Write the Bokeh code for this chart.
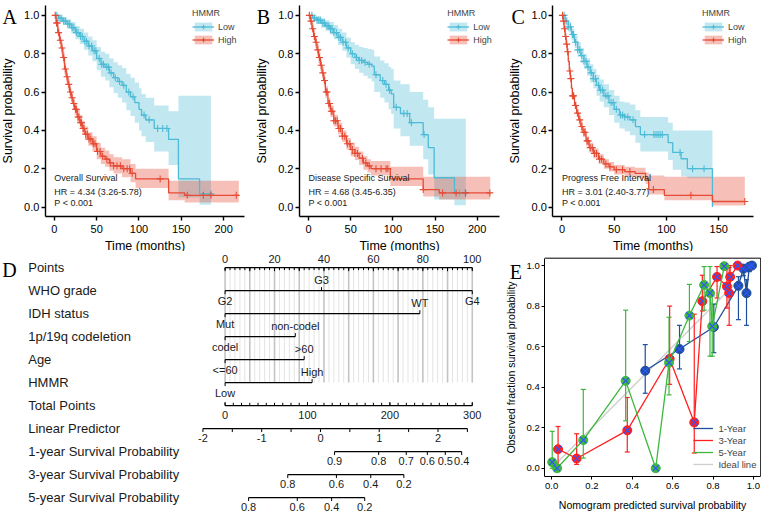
import numpy as np
from bokeh.plotting import figure
from bokeh.layouts import row, column
from bokeh.models import Range1d, Legend, LegendItem, FixedTicker, NumeralTickFormatter
from bokeh.embed import file_html
from bokeh.resources import INLINE
from bokeh.core.properties import value

# ---------------- Kaplan-Meier data ----------------
A_low_t = [0, 5, 10, 15, 20, 25, 30, 35, 40, 45, 50, 55, 60, 65, 70, 75, 80, 85, 90, 95, 100, 103, 108, 118, 135, 146.6, 171.6, 185]
A_low_s = [1.0, .985, .97, .955, .935, .91, .89, .865, .84, .815, .775, .745, .73, .70, .675, .655, .635, .60, .575, .545, .51, .48, .455, .41, .353, .147, .069, .069]
A_low_lo = [1.0, .97, .95, .93, .905, .875, .85, .82, .79, .76, .715, .68, .66, .625, .595, .57, .545, .505, .475, .44, .40, .37, .34, .29, .22, .05, .012, .012]
A_low_hi = [1.0, 1.0, .99, .98, .965, .945, .93, .91, .89, .87, .835, .81, .80, .775, .755, .74, .725, .695, .675, .65, .62, .59, .57, .53, .50, .58, .58, .58]
A_low_cens = [3, 5.5, 8, 11, 13, 16, 18, 21, 23, 26, 28, 31, 33, 36, 38, 41, 44, 47, 49, 53, 56, 58, 62, 64, 67, 72, 77, 82, 88, 93, 106, 112, 122, 128, 133, 185]

A_high_t = [0, 2, 4, 6, 8, 10, 12, 14, 16, 18, 20, 22, 24, 27, 30, 33, 36, 40, 45, 50, 55, 60, 65, 70, 80, 90, 96, 135, 154, 218]
A_high_s = [1.0, .96, .91, .87, .83, .78, .72, .68, .64, .60, .57, .54, .51, .47, .44, .41, .38, .355, .33, .29, .265, .25, .23, .215, .20, .176, .147, .074, .061, .061]
A_high_lo = [1.0, .94, .89, .85, .80, .75, .69, .65, .61, .57, .54, .51, .48, .44, .41, .38, .35, .32, .29, .25, .225, .21, .19, .175, .155, .13, .10, .035, .024, .024]
A_high_hi = [1.0, .98, .94, .90, .86, .81, .75, .71, .67, .63, .60, .57, .54, .51, .48, .45, .42, .39, .37, .335, .31, .295, .275, .26, .25, .225, .20, .137, .137, .137]
A_high_cens = [1, 2.5, 3.5, 5, 7, 9, 11, 13, 15, 17, 19, 21, 23, 25, 26, 28, 29, 31, 32, 34, 35, 37, 39, 41, 43, 46, 48, 51, 54, 57, 62, 66, 70, 74, 78, 82, 86, 89, 92, 125, 157, 176, 185, 215]

B_low_t = [0, 5, 10, 15, 20, 25, 30, 35, 40, 45, 50, 55, 60, 65, 70, 75, 78, 85, 90, 95, 98, 101, 109, 120, 136, 142, 149, 173, 186.5]
B_low_s = [1.0, .985, .975, .96, .945, .93, .91, .885, .86, .83, .80, .78, .765, .755, .745, .735, .69, .66, .64, .61, .59, .52, .488, .44, .378, .31, .153, .074, .074]
B_low_lo = [1.0, .97, .955, .935, .92, .90, .875, .845, .815, .78, .745, .72, .70, .685, .67, .655, .60, .57, .545, .51, .485, .41, .37, .32, .25, .17, .04, .01, .01]
B_low_hi = [1.0, 1.0, .995, .985, .975, .965, .95, .93, .91, .885, .86, .845, .835, .83, .825, .82, .785, .765, .75, .73, .72, .66, .64, .60, .56, .52, .46, .46, .46]
B_low_cens = [4, 7, 10, 12, 14, 17, 19, 22, 24, 26, 28, 30, 33, 36, 38, 41, 44, 47, 52, 57, 60, 63, 67, 72, 80, 88, 92, 96, 104, 113, 117, 122, 137, 179, 186.5]

B_high_t = [0, 2, 4, 6, 8, 10, 12, 14, 16, 18, 20, 23, 26, 30, 35, 40, 45, 50, 55, 60, 65, 70, 74, 97, 136, 155, 215.5]
B_high_s = [1.0, .97, .93, .89, .86, .82, .78, .74, .70, .66, .60, .54, .50, .45, .41, .37, .33, .30, .28, .255, .23, .215, .20, .147, .091, .074, .074]
B_high_lo = [1.0, .95, .91, .87, .83, .79, .75, .71, .67, .63, .57, .51, .47, .42, .38, .34, .30, .265, .245, .22, .195, .18, .165, .11, .055, .04, .04]
B_high_hi = [1.0, .99, .96, .92, .89, .85, .81, .77, .73, .69, .63, .57, .53, .48, .44, .40, .36, .335, .315, .29, .265, .25, .24, .21, .158, .158, .158]
B_high_cens = [1, 3, 5, 7, 9, 11, 13, 15, 17, 19, 21, 22, 24, 25, 27, 28, 30, 32, 34, 36, 38, 40, 43, 46, 49, 52, 55, 58, 64, 68, 72, 80, 86, 92, 94, 136, 159, 175, 186, 215]

C_low_t = [0, 3, 6, 9, 12, 15, 18, 21, 24, 27, 30, 33, 36, 40, 45, 50, 55, 60, 65, 70.3, 75, 101.6, 106, 114, 120, 144]
C_low_s = [1.0, .97, .94, .90, .86, .82, .79, .76, .73, .70, .67, .635, .61, .58, .545, .51, .48, .47, .455, .42, .378, .336, .285, .252, .20, 0.0]
C_low_lo = [1.0, .95, .915, .87, .83, .785, .75, .72, .685, .65, .62, .58, .55, .52, .48, .44, .41, .395, .375, .335, .29, .245, .195, .16, .15, 0.0]
C_low_hi = [1.0, .99, .965, .93, .895, .86, .83, .80, .775, .745, .72, .69, .665, .64, .61, .58, .55, .545, .535, .505, .47, .44, .40, .40, .40, .40]
C_low_cens = [2, 4, 6, 8, 10, 11, 13, 15, 17, 19, 21, 23, 25, 28, 30, 32, 35, 37, 39, 42, 44, 47, 49, 52, 56, 58, 60, 63, 68, 79, 88, 90, 92, 94, 96, 113, 125, 136]

C_high_t = [0, 1, 2, 3, 4, 5, 6, 7, 8, 9, 10, 12, 14, 16, 18, 20, 23, 26, 30, 35, 40, 45, 50, 60, 70, 80, 83, 98, 144, 175]
C_high_s = [1.0, .97, .93, .89, .85, .81, .76, .71, .67, .62, .58, .53, .49, .455, .42, .39, .345, .31, .28, .25, .225, .21, .195, .185, .176, .147, .091, .061, .029, .029]
C_high_lo = [1.0, .955, .91, .87, .83, .79, .74, .69, .65, .60, .56, .51, .47, .43, .395, .365, .32, .285, .255, .225, .20, .185, .17, .16, .15, .12, .065, .035, .008, .008]
C_high_hi = [1.0, .985, .95, .91, .87, .83, .78, .73, .69, .64, .60, .55, .51, .48, .445, .415, .37, .335, .305, .275, .25, .235, .22, .21, .205, .18, .165, .158, .158, .158]
C_high_cens = [0.5, 1.5, 2.5, 3.5, 4.5, 5.5, 7.5, 8.5, 10, 11, 13, 15, 17, 19, 21, 22, 24, 25, 27, 29, 31, 33, 36, 38, 42, 46, 52, 58, 65, 87.5, 123.4, 175]

A_notes = ["Overall Survival", "HR = 4.34 (3.26-5.78)", "P < 0.001"]
B_notes = ["Disease Specific Survival", "HR = 4.68 (3.45-6.35)", "P < 0.001"]
C_notes = ["Progress Free Interval", "HR = 3.01 (2.40-3.77)", "P < 0.001"]
km_xticks_AB = [0, 50, 100, 150, 200]
km_xticks_C = [0, 50, 100, 150]
km_yticks = [0.0, 0.2, 0.4, 0.6, 0.8, 1.0]

# ---------------- Nomogram data ----------------
nomo_rows = ["Points", "WHO grade", "IDH status", "1p/19q codeletion", "Age", "HMMR",
             "Total Points", "Linear Predictor", "1-year Survival Probability",
             "3-year Survival Probability", "5-year Survival Probability"]
points_labels = [0, 20, 40, 60, 80, 100]
who_levels = ["G2", "G3", "G4"]
who_points = [0, 39, 100]
idh_levels = ["Mut", "WT"]
idh_points = [0, 78.8]
codel_levels = ["codel", "non-codel"]
codel_points = [0, 28.4]
age_levels = ["<=60", ">60"]
age_points = [0, 32]
hmmr_levels = ["Low", "High"]
hmmr_points = [0, 35.2]
total_labels = [0, 100, 200, 300]
lp_labels = [-2, -1, 0, 1, 2]
lp_limits = [-2, 2.5]
surv1_labels = [0.9, 0.8, 0.7, 0.6, 0.5, 0.4]
surv3_labels = [0.8, 0.6, 0.4, 0.2]
surv5_labels = [0.8, 0.6, 0.4, 0.2]
log_base_hazard = {1: -2.49, 3: -0.943, 5: -0.277}
LP_AT_ZERO_TOTAL = -1.623
LP_PER_TOTAL_POINT = 0.01402
POINTS_MAX = 100
TOTAL_MAX = 300

# ---------------- Calibration data ----------------
cal1_x = [0.464, 0.634, 0.804, 0.926, 0.950, 0.966, 0.980, 0.993]
cal1_y = [0.481, 0.588, 0.697, 0.900, 0.985, 0.864, 0.995, 1.000]
cal1_lo = [0.370, 0.490, 0.570, 0.733, 0.950, 0.705, 0.970, 1.000]
cal1_hi = [0.610, 0.705, 0.810, 0.945, 1.000, 0.930, 1.000, 1.000]
cal3_x = [0.032, 0.124, 0.375, 0.585, 0.707, 0.747, 0.820, 0.869, 0.880, 0.885, 0.922]
cal3_y = [0.094, 0.048, 0.187, 0.540, 0.226, 0.824, 0.944, 0.897, 0.864, 0.944, 1.000]
cal3_lo = [0.010, 0.019, 0.080, 0.414, 0.075, 0.776, 0.840, 0.790, 0.705, 0.850, 1.000]
cal3_hi = [0.206, 0.170, 0.349, 0.800, 0.760, 0.952, 0.995, 0.990, 0.990, 1.000, 1.000]
cal5_x = [0.003, 0.027, 0.157, 0.367, 0.516, 0.582, 0.683, 0.756, 0.785, 0.796, 0.856]
cal5_y = [0.030, 0.000, 0.139, 0.431, 0.000, 0.521, 0.753, 0.904, 0.864, 0.700, 0.997]
cal5_lo = [0.000, 0.000, 0.050, 0.234, 0.000, 0.362, 0.625, 0.780, 0.553, 0.553, 1.000]
cal5_hi = [0.182, 0.000, 0.389, 0.780, 0.000, 0.745, 0.907, 0.995, 0.995, 0.850, 1.000]
cal_ticks = [0.0, 0.2, 0.4, 0.6, 0.8, 1.0]

# ---------------- layout helpers ----------------
FONT = "Liberation Sans"
SERIF = "Liberation Serif"
RED = "#E64B35"
BLUE = "#4DBBD5"
SX = 761 / 777
SY = 514 / 530
TOP_H = 251
BOT_H = 263


def X(r):
    return r * SX


def Y(r):
    return r * SY


def axis_range(size, p1, v1, p2, v2):
    k = (v2 - v1) / (p2 - p1)
    return (v1 - p1 * k, v1 + (size - p1) * k)


def px2data(rng, size, p):
    return rng[0] + p * (rng[1] - rng[0]) / size


def style_axis(ax, tick_size, label_size, label_standoff, standoff=2, width=1.4, tick_out=4):
    ax.axis_line_color = "black"
    ax.axis_line_width = width
    ax.major_tick_line_color = "black"
    ax.major_tick_line_width = width
    ax.major_tick_out = tick_out
    ax.major_tick_in = 0
    ax.minor_tick_out = 0
    ax.minor_tick_in = 0
    ax.major_label_text_font = FONT
    ax.major_label_text_font_size = tick_size
    ax.major_label_text_color = "black"
    ax.axis_label_text_font = FONT
    ax.axis_label_text_font_size = label_size
    ax.axis_label_text_font_style = "normal"
    ax.axis_label_text_color = "black"
    ax.major_label_standoff = standoff
    ax.axis_label_standoff = label_standoff


def step_value(t, s, c):
    idx = np.searchsorted(np.array(t), np.array(c), side="right") - 1
    return list(np.array(s)[idx])


def km_panel(letter, fig_left, width, t_px1, t1, t_px2, t2, letter_ref, legend_ref_x,
             notes, groups, xmax, xticks):
    xr = axis_range(width, X(t_px1) - fig_left, t1, X(t_px2) - fig_left, t2)
    yr = axis_range(TOP_H, TOP_H - Y(213.0), 0.0, TOP_H - Y(15.3), 1.0)
    p = figure(width=width, height=TOP_H, x_range=Range1d(*xr), y_range=Range1d(*yr),
               output_backend="svg", toolbar_location=None, min_border=0)
    p.outline_line_color = None
    p.grid.visible = False
    style_axis(p.xaxis[0], "11px", "12.5px", 3, standoff=4)
    style_axis(p.yaxis[0], "11px", "12.5px", 6)
    p.xaxis.ticker = FixedTicker(ticks=xticks)
    p.yaxis.ticker = FixedTicker(ticks=km_yticks)
    p.yaxis.formatter = NumeralTickFormatter(format="0.0")
    p.xaxis.axis_label = "Time (months)"
    p.yaxis.axis_label = "Survival probability"
    p.xaxis.fixed_location = -0.05
    p.xaxis.bounds = (-0.05 * xmax, 1.05 * xmax)
    p.yaxis.fixed_location = -0.05 * xmax
    p.yaxis.bounds = (-0.05, 1.05)

    bands = []
    for (name, t, s, lo, hi, cens, color) in groups:
        bands.append(p.varea_step(x=t, y1=lo, y2=hi, step_mode="after",
                                  fill_color=color, fill_alpha=0.35))
    items = []
    for (name, t, s, lo, hi, cens, color), band in zip(groups, bands):
        ln = p.step(t, s, mode="after", line_color=color, line_width=1.3)
        sc = p.scatter(cens, step_value(t, s, cens), marker="cross", size=7,
                       line_color=color, line_width=1.1)
        items.append(LegendItem(label=name, renderers=[band, ln, sc]))

    p.text(x=[0, 0, 0], y=[0.15, 0.077, 0.019], text=notes, text_font=value(FONT),
           text_font_size="9px", text_baseline="middle", text_align="left", text_color="#222222")

    leg = Legend(items=items, title="HMMR",
                 location=(X(legend_ref_x) - fig_left, TOP_H - Y(46.5)),
                 border_line_color=None, background_fill_alpha=0, padding=0, margin=0, spacing=2,
                 glyph_height=11, glyph_width=22, label_height=11, label_standoff=4,
                 label_text_font=FONT, label_text_font_size="9px", title_text_font=FONT,
                 title_text_font_size="9px", title_text_font_style="normal", title_standoff=3)
    p.add_layout(leg)
    lx = px2data(xr, width, X(letter_ref[0]) - fig_left)
    ly = px2data(yr, TOP_H, TOP_H - Y(letter_ref[1]))
    p.text(x=[lx], y=[ly], text=[letter], text_font=value(SERIF), text_font_size="20px",
           text_baseline="alphabetic", text_align="left", text_color="black")
    return p


pA = km_panel("A", 0, 250, 55.0, 0, 227.8, 200, (2, 17), 196, A_notes,
              [("Low", A_low_t, A_low_s, A_low_lo, A_low_hi, A_low_cens, BLUE),
               ("High", A_high_t, A_high_s, A_high_lo, A_high_hi, A_high_cens, RED)],
              214, km_xticks_AB)
pB = km_panel("B", 250, 254, 314.5, 0, 486.7, 200, (261.7, 16.7), 456.7, B_notes,
              [("Low", B_low_t, B_low_s, B_low_lo, B_low_hi, B_low_cens, BLUE),
               ("High", B_high_t, B_high_s, B_high_lo, B_high_hi, B_high_cens, RED)],
              215.5, km_xticks_AB)
pC = km_panel("C", 504, 257, 573.3, 0, 733.3, 150, (521.7, 16.7), 716.7, C_notes,
              [("Low", C_low_t, C_low_s, C_low_lo, C_low_hi, C_low_cens, BLUE),
               ("High", C_high_t, C_high_s, C_high_lo, C_high_hi, C_high_cens, RED)],
              174.4, km_xticks_C)

# ---------------- Nomogram (D) ----------------
D_W = 505
D_TOP = TOP_H
pts_rng = axis_range(D_W, X(229.3), 0, X(481.7), POINTS_MAX)
row0 = Y(275.5) - D_TOP
row10 = Y(512.5) - D_TOP
PX_PER_ROW = (row10 - row0) / 10
pD = figure(width=D_W, height=BOT_H, x_range=Range1d(*pts_rng),
            y_range=Range1d((BOT_H - row0) / PX_PER_ROW, -row0 / PX_PER_ROW),
            output_backend="svg", toolbar_location=None, x_axis_location=None,
            y_axis_location=None, min_border=0)
pD.outline_line_color = None
pD.grid.visible = False

TK = 3.5 / PX_PER_ROW
TXT = "#1a1a1a"
LINE_W = 1.2


def total_to_pts(tp):
    return np.array(tp, dtype=float) * POINTS_MAX / TOTAL_MAX


def lp_to_pts(lp):
    return (np.array(lp, dtype=float) - LP_AT_ZERO_TOTAL) / LP_PER_TOTAL_POINT * POINTS_MAX / TOTAL_MAX


def prob_to_pts(probs, years):
    lp = np.log(-np.log(np.array(probs, dtype=float))) - log_base_hazard[years]
    return lp_to_pts(lp)


minor_pts = [v for v in range(0, POINTS_MAX + 1, 2) if v % 10 != 0]
major_pts = list(range(0, POINTS_MAX + 1, 10))
pD.segment(x0=minor_pts, y0=[0] * len(minor_pts), x1=minor_pts, y1=[5] * len(minor_pts),
           line_color="#E4E4E4", line_width=1)
pD.segment(x0=major_pts, y0=[0] * len(major_pts), x1=major_pts, y1=[5] * len(major_pts),
           line_color="#C4C4C4", line_width=1.6)

label_x = px2data(pts_rng, D_W, X(28.3))
pD.text(x=[label_x] * len(nomo_rows), y=list(range(len(nomo_rows))), text=nomo_rows,
        text_font=value(FONT), text_font_size="13px", text_baseline="middle",
        text_align="left", text_color=TXT)
pD.text(x=[px2data(pts_rng, D_W, X(1.7))], y=[(Y(278.3) - D_TOP - row0) / PX_PER_ROW], text=["D"],
        text_font=value(SERIF), text_font_size="20px", text_baseline="alphabetic",
        text_align="left", text_color="black")

# Points axis (row 0)
pD.segment(x0=[0], y0=[0], x1=[POINTS_MAX], y1=[0], line_color="black", line_width=LINE_W)
all_minor = list(range(0, POINTS_MAX + 1, 2))
pD.segment(x0=all_minor, y0=[0] * len(all_minor), x1=all_minor, y1=[TK * 0.7] * len(all_minor),
           line_color="black", line_width=1)
pD.segment(x0=major_pts, y0=[0] * len(major_pts), x1=major_pts, y1=[TK] * len(major_pts),
           line_color="black", line_width=1)
pD.text(x=points_labels, y=[-0.36] * len(points_labels), text=[str(v) for v in points_labels],
        text_font=value(FONT), text_font_size="11px", text_baseline="middle", text_align="center",
        text_color=TXT)

variables = [(1, who_levels, who_points), (2, idh_levels, idh_points),
             (3, codel_levels, codel_points), (4, age_levels, age_points),
             (5, hmmr_levels, hmmr_points)]
for r, levels, pts in variables:
    pD.segment(x0=[min(pts)], y0=[r], x1=[max(pts)], y1=[r], line_color="black", line_width=LINE_W)
    for i, (lv, pv) in enumerate(zip(levels, pts)):
        d = -1 if (i % 2 == 1) else 1
        pD.segment(x0=[pv], y0=[r], x1=[pv], y1=[r + d * TK], line_color="black", line_width=1)
        pD.text(x=[pv], y=[r + d * 0.46], text=[lv], text_font=value(FONT), text_font_size="11px",
                text_baseline="middle", text_align="center", text_color=TXT)

tp_ticks = list(range(0, TOTAL_MAX + 1, 10))
pD.segment(x0=[0], y0=[6], x1=[total_to_pts(TOTAL_MAX)], y1=[6], line_color="black", line_width=LINE_W)
tpx = total_to_pts(tp_ticks)
pD.segment(x0=tpx, y0=[6] * len(tpx), x1=tpx, y1=[6 - TK * 0.8] * len(tpx), line_color="black", line_width=1)
tlx = total_to_pts(total_labels)
pD.segment(x0=tlx, y0=[6] * len(tlx), x1=tlx, y1=[6 - TK] * len(tlx), line_color="black", line_width=1)
pD.text(x=tlx, y=[6.42] * len(tlx), text=[str(v) for v in total_labels], text_font=value(FONT),
        text_font_size="11px", text_baseline="middle", text_align="center", text_color=TXT)

lp_ticks = list(np.arange(lp_limits[0], lp_limits[1] + 0.01, 0.5))
lpx = lp_to_pts(lp_ticks)
pD.segment(x0=[lp_to_pts(lp_limits[0])], y0=[7], x1=[lp_to_pts(lp_limits[1])], y1=[7],
           line_color="black", line_width=LINE_W)
pD.segment(x0=lpx, y0=[7] * len(lpx), x1=lpx, y1=[7 + TK] * len(lpx), line_color="black", line_width=1)
llx = lp_to_pts(lp_labels)
pD.text(x=llx, y=[7.40] * len(llx), text=[str(v) for v in lp_labels], text_font=value(FONT),
        text_font_size="11px", text_baseline="middle", text_align="center", text_color=TXT)

for r, labels, yrs in [(8, surv1_labels, 1), (9, surv3_labels, 3), (10, surv5_labels, 5)]:
    sx = prob_to_pts(labels, yrs)
    pD.segment(x0=[sx.min()], y0=[r], x1=[sx.max()], y1=[r], line_color="black", line_width=LINE_W)
    pD.segment(x0=sx, y0=[r] * len(sx), x1=sx, y1=[r + TK] * len(sx), line_color="black", line_width=1)
    pD.text(x=sx, y=[r + 0.40] * len(sx), text=[f"{v:g}" for v in labels], text_font=value(FONT),
            text_font_size="11px", text_baseline="middle", text_align="center", text_color=TXT)

# ---------------- Calibration (E) ----------------
E_LEFT = D_W
E_W = 761 - D_W
ex_rng = axis_range(E_W, X(562.7) - E_LEFT, 0.0, X(768.7) - E_LEFT, 1.0)
ey_rng = axis_range(BOT_H, BOT_H - (Y(482.3) - D_TOP), 0.0, BOT_H - (Y(273.3) - D_TOP), 1.0)
box_l = px2data(ex_rng, E_W, X(555.7) - E_LEFT)
box_r = px2data(ex_rng, E_W, X(776.2) - E_LEFT)
box_b = px2data(ey_rng, BOT_H, BOT_H - (Y(490.7) - D_TOP))
box_t = px2data(ey_rng, BOT_H, BOT_H - (Y(265.7) - D_TOP))
pE = figure(width=E_W, height=BOT_H, x_range=Range1d(*ex_rng), y_range=Range1d(*ey_rng),
            output_backend="svg", toolbar_location=None, min_border=0)
pE.outline_line_color = None
pE.grid.visible = False
style_axis(pE.xaxis[0], "9.5px", "10.5px", 6, standoff=4, width=1, tick_out=3)
style_axis(pE.yaxis[0], "9.5px", "10.5px", 6, width=1, tick_out=3)
pE.xaxis.ticker = FixedTicker(ticks=cal_ticks)
pE.yaxis.ticker = FixedTicker(ticks=cal_ticks)
pE.xaxis.formatter = NumeralTickFormatter(format="0.0")
pE.yaxis.formatter = NumeralTickFormatter(format="0.0")
pE.xaxis.axis_label = "Nomogram predicted survival probability"
pE.yaxis.axis_label = "Observed fraction survival probability"
pE.xaxis.fixed_location = box_b
pE.xaxis.bounds = (box_l, box_r)
pE.yaxis.fixed_location = box_l
pE.yaxis.bounds = (box_b, box_t)
pE.segment(x0=[box_l, box_r], y0=[box_t, box_b], x1=[box_r, box_r], y1=[box_t, box_t],
           line_color="black", line_width=1)

ideal = pE.line([0, 1], [0, 1], line_color="#CFCFCF", line_width=1.4)
XCOL = "#2F55FF"
e_items = []
for name, xs, ys, lo, hi, col in [("1-Year", cal1_x, cal1_y, cal1_lo, cal1_hi, "#1D4F9A"),
                                  ("3-Year", cal3_x, cal3_y, cal3_lo, cal3_hi, "#FF1F1F"),
                                  ("5-Year", cal5_x, cal5_y, cal5_lo, cal5_hi, "#3DB83D")]:
    ln = pE.line(xs, ys, line_color=col, line_width=1.3)
    pE.segment(x0=xs, y0=lo, x1=xs, y1=hi, line_color=col, line_width=1.2)
    pE.scatter(xs + xs, lo + hi, marker="dash", size=5, line_color=col, line_width=1.2)
    pE.scatter(xs, ys, marker="circle", size=9, fill_color=col, line_color=col)
    pE.scatter(xs, ys, marker="x", size=9, line_color=XCOL, line_width=1.2)
    e_items.append(LegendItem(label=name, renderers=[ln]))
e_items.append(LegendItem(label="Ideal line", renderers=[ideal]))
legE = Legend(items=e_items, location=(X(708) - E_LEFT, BOT_H - (Y(484.5) - D_TOP)),
              border_line_color=None, background_fill_alpha=0, padding=0, margin=0, spacing=1,
              glyph_height=10, glyph_width=20, label_height=10, label_standoff=5,
              label_text_font=FONT, label_text_font_size="9.5px")
pE.add_layout(legE)
pE.text(x=[px2data(ex_rng, E_W, X(520) - E_LEFT)], y=[px2data(ey_rng, BOT_H, BOT_H - (Y(280) - D_TOP))],
        text=["E"], text_font=value(SERIF), text_font_size="20px", text_baseline="alphabetic",
        text_align="left", text_color="black")

layout = column(row(pA, pB, pC), row(pD, pE))
open("out.html", "w").write(file_html(layout, INLINE))
